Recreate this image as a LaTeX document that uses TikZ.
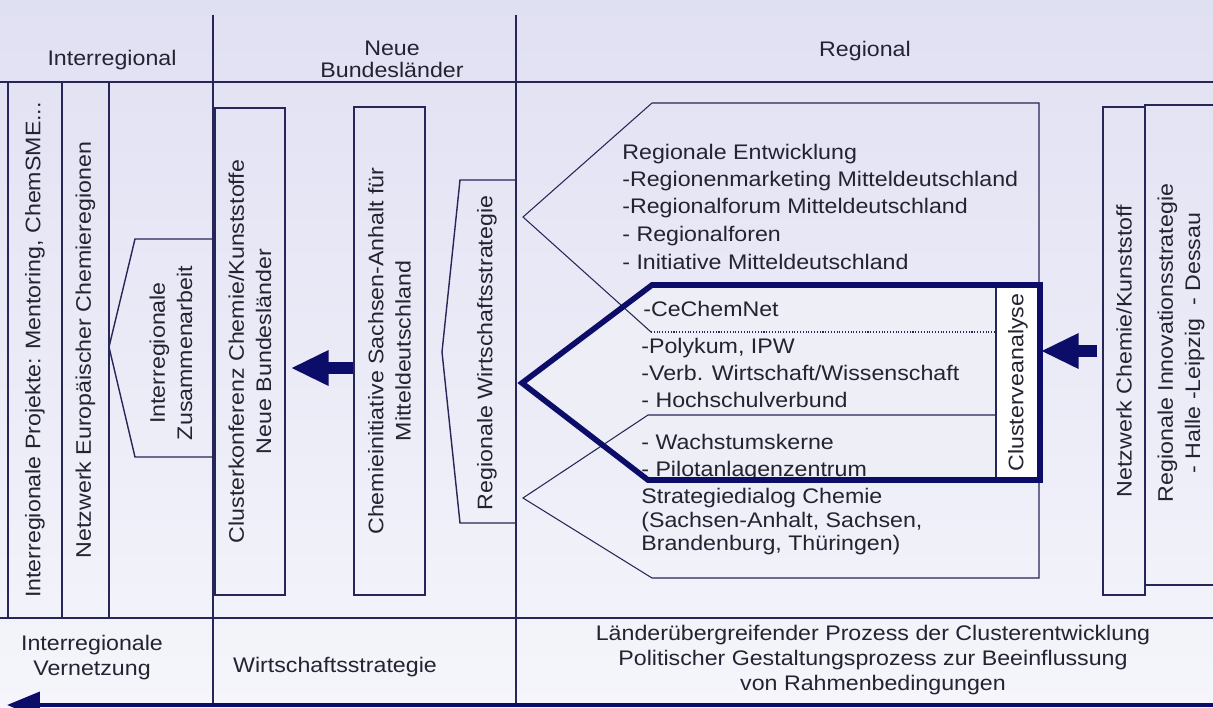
\documentclass[tikz,border=0pt]{standalone}
\usepackage{fontspec}
\setmainfont{Liberation Sans}[FakeStretch=1.1]
\usetikzlibrary{arrows.meta}

\definecolor{bgtop}{RGB}{224,224,243}
\definecolor{bgbot}{RGB}{245,245,251}
\definecolor{linec}{RGB}{38,38,88}
\definecolor{navy}{RGB}{12,12,105}
\definecolor{txtc}{RGB}{35,35,50}
\definecolor{cfill}{RGB}{238,238,246}

\tikzset{
  sep line/.style={draw=linec, line width=1pt},
  box line/.style={draw=linec, line width=0.8pt},
  fine line/.style={draw=linec, line width=0.6pt},
  dot line/.style={draw=linec, line width=0.6pt, densely dotted},
  hull/.style={draw=navy, line width=3.2pt, line join=miter},
  txt/.style={text=txtc, font=\fontsize{12}{15.5}\selectfont, inner sep=0pt},
  vtxt/.style={txt, rotate=90, align=center},
  vbox/.style={box line, txt, rotate=90, align=center},
  fat arrow/.style={navy, line width=6.8pt, -{Triangle[length=0.76cm,width=0.66cm]}},
  base arrow/.style={navy, line width=2.3pt, -{Triangle[length=0.66cm,width=0.52cm]}}
}

\begin{document}
\begin{tikzpicture}[x=0.02cm,y=-0.02cm]
        \useasboundingbox (0,0) rectangle (1213,707);
        \shade[top color=bgtop,bottom color=bgbot] (0,0) rectangle (1213,707);

        % columns and rows
        \draw[sep line] (213,15) -- (213,707);
        \draw[sep line] (516,15) -- (516,707);
        \draw[sep line] (0,82) -- (1213,82);
        \draw[sep line] (0,618) -- (1213,618);

        \node[txt,anchor=base] (hdinter) at (112,65) {Interregional};
        \node[txt,anchor=base] (hdneue) at (392,55) {Neue};
        \node[txt,anchor=base] (hdbund) at (392,77) {Bundesländer};
        \node[txt,anchor=base] (hdreg) at (865,56) {Regional};

        % interregional
        \node[vbox,minimum width=10.72cm,minimum height=1.08cm] (proj) at (35,350) {Interregionale Projekte: Mentoring, ChemSME...};
        \node[vbox,minimum width=10.72cm,minimum height=0.94cm] (netz) at (85.5,350) {Netzwerk Europäischer Chemieregionen};
        \draw[box line] (213,239) -- (135,239) -- (109,347) -- (135,457) -- (213,457);
        \node[vtxt] (zusarb) at (171,353) {Interregionale\\Zusammenarbeit};

        % neue bundeslaender
        \node[vbox,minimum width=9.74cm,minimum height=1.4cm] (konf) at (250,351.5) {Clusterkonferenz Chemie/Kunststoffe\\Neue Bundesländer};
        \node[vbox,minimum width=9.76cm,minimum height=1.42cm] (chem) at (389.5,351) {Chemieinitiative Sachsen-Anhalt für\\Mitteldeutschland};
        \coordinate (lev) at (0,368);
        \draw[fat arrow,shorten >=0.1cm] (chem.north |- lev) -- (konf.south |- lev);
        \draw[box line] (516,180) -- (460,180) -- (442,352) -- (460,523) -- (516,523);
        \node[vtxt] (rws) at (487,353) {Regionale Wirtschaftsstrategie};

        % regional
        \fill[cfill] (1040,285) -- (652,285) -- (522,383) -- (648,480) -- (1040,480) -- cycle;
        \draw[fine line] (651,332) -- (523,217) -- (652,103) -- (1039,103) -- (1039,578) -- (652,578) -- (523,498) -- (648,415) -- (996,415);
        \draw[dot line] (651,332) -- (996,332);

        \node[txt,anchor=base west] (re1) at (622,159) {Regionale Entwicklung};
        \node[txt,anchor=base west] (re2) at (622,186) {-Regionenmarketing Mitteldeutschland};
        \node[txt,anchor=base west] (re3) at (622,213) {-Regionalforum Mitteldeutschland};
        \node[txt,anchor=base west] (re4) at (622,241) {- Regionalforen};
        \node[txt,anchor=base west] (re5) at (622,269) {- Initiative Mitteldeutschland};
        \node[txt,anchor=base west] (cc1) at (643,316) {-CeChemNet};
        \node[txt,anchor=base west] (pk1) at (641,353) {-Polykum, IPW};
        \node[txt,anchor=base west] (pk2) at (641,380) {-Verb. Wirtschaft/Wissenschaft};
        \node[txt,anchor=base west] (pk3) at (641,407) {- Hochschulverbund};
        \node[txt,anchor=base west] (wk1) at (641,449) {- Wachstumskerne};
        \node[txt,anchor=base west] (wk2) at (641,476) {- Pilotanlagenzentrum};
        \node[txt,anchor=base west] (sd1) at (641,503) {Strategiedialog Chemie};
        \node[txt,anchor=base west] (sd2) at (641,527) {(Sachsen-Anhalt, Sachsen,};
        \node[txt,anchor=base west] (sd3) at (641,550) {Brandenburg, Thüringen)};

        \node[vbox,fill=white,minimum width=3.9cm,minimum height=0.88cm] (cva) at (1018,382.5) {Clusterveanalyse};
        \draw[hull] (1040,285) -- (652,285) -- (522,383) -- (648,480) -- (1040,480) -- cycle;

        \node[vbox,minimum width=9.76cm,minimum height=0.84cm] (netzchem) at (1124,351) {Netzwerk Chemie/Kunststoff};
        \draw[box line] (1213,105) -- (1145,105) -- (1145,585) -- (1213,585);
        \node[vtxt] (innov) at (1181,343) {Regionale Innovationsstrategie\\- Halle -Leipzig \ - Dessau};
        \draw[fat arrow,shorten <=0.1cm] (netzchem.north) -- (cva.south |- netzchem.north);

        % bottom row
        \node[txt,anchor=base] (ftinter) at (92,650) {Interregionale};
        \node[txt,anchor=base] (ftvern) at (92,675) {Vernetzung};
        \node[txt,anchor=base] (ftwirt) at (335,672) {Wirtschaftsstrategie};
        \node[txt,anchor=base] (ftl1) at (873,640) {Länderübergreifender Prozess der Clusterentwicklung};
        \node[txt,anchor=base] (ftl2) at (873,665) {Politischer Gestaltungsprozess zur Beeinflussung};
        \node[txt,anchor=base] (ftl3) at (873,690) {von Rahmenbedingungen};

        \coordinate (bstart) at (1213,705);
        \coordinate (bend) at (7,705);
        \draw[base arrow] (bstart) -- (bend);
\end{tikzpicture}
\end{document}
